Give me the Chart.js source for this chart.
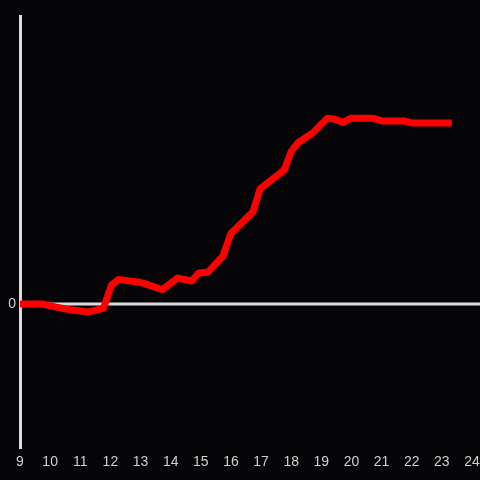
<!DOCTYPE html>
<html lang="en">
<head>
  <meta charset="UTF-8">
  <title>Line chart</title>
  <script src="https://cdn.jsdelivr.net/npm/chart.js"></script>
  <style>
    html, body { margin: 0; padding: 0; background: #050507; }
    #wrap { width: 480px; height: 480px; }
  </style>
</head>
<body>
  <div id="wrap"><canvas id="lineChart" width="480" height="480"></canvas></div>
  <script>
    // hour of day (x) and value (y)
    const hours = [9.00, 9.73, 10.17, 10.67, 11.27, 11.77, 12.03, 12.27, 13.00, 13.73,
                   14.23, 14.70, 14.93, 15.23, 15.73, 16.00, 16.73, 16.97, 17.77, 18.00,
                   18.23, 18.73, 19.20, 19.43, 19.73, 19.97, 20.73, 21.03, 21.77, 22.00, 23.33];
    const values = [0.00, 0.00, -0.02, -0.04, -0.055, -0.03, 0.13, 0.17, 0.15, 0.10,
                    0.18, 0.16, 0.215, 0.22, 0.33, 0.49, 0.64, 0.80, 0.93, 1.06,
                    1.12, 1.19, 1.29, 1.285, 1.26, 1.29, 1.29, 1.27, 1.27, 1.257, 1.257];
    const yTicks = [0];

    const axisColor = '#dcdcdc';
    const textColor = '#cfcfcf';

    // background + zero line reaching to the right edge
    const decor = {
      id: 'decor',
      beforeDraw(chart) {
        const c = chart.ctx;
        c.save();
        c.fillStyle = '#050507';
        c.fillRect(0, 0, chart.width, chart.height);
        const y0 = chart.scales.y.getPixelForValue(0);
        c.strokeStyle = axisColor;
        c.lineWidth = 3;
        c.beginPath();
        c.moveTo(chart.chartArea.left, y0);
        c.lineTo(chart.width, y0);
        c.stroke();
        c.restore();
      }
    };

    const ctx = document.getElementById('lineChart').getContext('2d');
    new Chart(ctx, {
      type: 'line',
      data: {
        datasets: [{
          data: hours.map((h, i) => ({ x: h, y: values[i] })),
          borderColor: '#ff0000',
          borderWidth: 7,
          borderCapStyle: 'butt',
          borderJoinStyle: 'round',
          pointRadius: 0,
          tension: 0,
          fill: false
        }]
      },
      options: {
        responsive: false,
        animation: false,
        layout: { padding: { top: 16, right: 8, left: 0, bottom: 0 } },
        plugins: { legend: { display: false }, tooltip: { enabled: false } },
        scales: {
          x: {
            type: 'linear',
            min: 9,
            max: 24,
            grid: { display: false },
            border: { display: false },
            ticks: {
              stepSize: 1,
              color: textColor,
              padding: -2,
              font: { family: 'Liberation Sans, Arial, sans-serif', size: 14 }
            },
            afterFit(scale) { scale.height = 32; }
          },
          y: {
            min: -1,
            max: 2,
            afterBuildTicks(scale) { scale.ticks = yTicks.map(v => ({ value: v })); },
            grid: { display: false, drawTicks: false },
            border: { display: true, color: axisColor, width: 3 },
            ticks: {
              color: textColor,
              padding: 4,
              font: { family: 'Liberation Sans, Arial, sans-serif', size: 14 }
            },
            afterFit(scale) { scale.width = 20; }
          }
        }
      },
      plugins: [decor]
    });
  </script>
</body>
</html>
